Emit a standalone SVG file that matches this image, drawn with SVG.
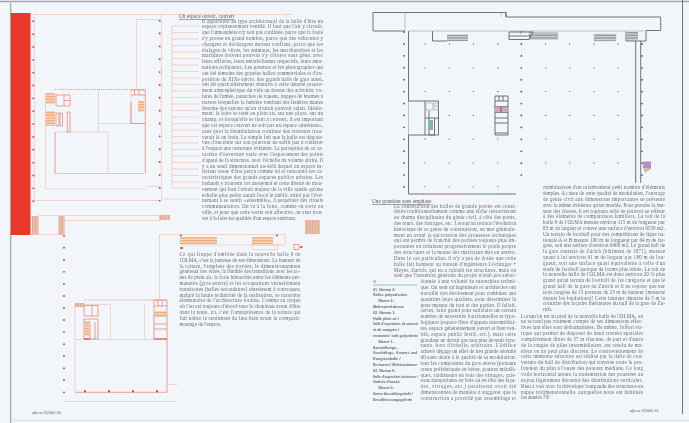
<svg xmlns="http://www.w3.org/2000/svg" width="689" height="423" viewBox="0 0 689 423">
<style>
.p{font-family:"Liberation Serif","Times New Roman",serif;font-size:5.05px;fill:#6a6b72}
.h{font-family:"Liberation Serif","Times New Roman",serif;font-size:5.3px;fill:#5c5a68;text-decoration:underline}
.l{font-family:"Liberation Sans",Arial,sans-serif;font-size:3.7px;font-weight:bold;fill:#666970}
.f{font-family:"Liberation Sans",Arial,sans-serif;font-size:3.9px;fill:#66666c}
.r{fill:none;stroke:#eec6b6;stroke-width:.7}
.rr{fill:none;stroke:#ea7a66;stroke-width:.7}
.rd{stroke:#e8392b;stroke-width:1.9;stroke-linecap:round;fill:none}
.k{fill:none;stroke:#5a5c60;stroke-width:.85}
.kl{fill:none;stroke:#a9abae;stroke-width:.7}
.kd{stroke:#55585c;stroke-width:1.8;stroke-linecap:round;fill:none}
.ks{stroke:#6b6d72;stroke-width:1.3;stroke-linecap:round;fill:none}
</style>
<defs>
<pattern id="o" width="3" height="1.6" patternUnits="userSpaceOnUse"><rect width="3" height="1.6" fill="#f8ddc2"/><rect width="3" height=".8" fill="#eea877"/></pattern>
<pattern id="t" width="1.6" height="1.6" patternUnits="userSpaceOnUse"><rect width="1.6" height="1.6" fill="#eec6b4"/><rect width=".8" height="1.6" fill="#dfa592"/></pattern>
<pattern id="g" width="3" height="1.6" patternUnits="userSpaceOnUse"><rect width="3" height="1.6" fill="#d5d8d6"/><rect width="3" height=".7" fill="#7f8a86"/></pattern>
<filter id="b" x="-5%" y="-5%" width="110%" height="110%"><feGaussianBlur stdDeviation="0.25"/></filter>
<filter id="c" x="-5%" y="-5%" width="110%" height="110%"><feGaussianBlur stdDeviation="0.28"/></filter>
</defs>
<rect width="689" height="423" fill="#f2f5fa"/>
<path d="M0 1.5H689" stroke="#9fa3a8" stroke-width="1.4"/>
<path d="M10.7 3V423" stroke="#8f9296" stroke-width="1"/>
<path d="M682.5 0V414" stroke="#6f7276" stroke-width="1"/>
<path d="M11 420.5H689" stroke="#cfe6e0" stroke-width="1.2"/>
<path d="M11 3H680" stroke="#e9edf2" stroke-width="1"/>

<g id="plan-red-upper" filter="url(#b)">
<rect x="11" y="13" width="19.5" height="222" fill="#e8392b"/>
<path class="r" d="M34.5 14.5H293M287 14.5V17M34.5 14.5V200.5H160M161.5 14.5V199H200"/>
<path class="rd" d="M33.3 21.3V202" stroke-dasharray="0 12.85"/>
<path class="rd" d="M159.7 20.7V201" stroke-dasharray="0 12.85"/>
<path class="r" d="M172 26V188M136.5 89V19.5H159M172 26h27M172 32.5h27M172 39h27M172 45.5h27M172 52h27M172 58.5h27M172 65h27M172 71.5h27M172 78h27M172 84.5h27M172 91h27M172 97.5h27M172 104h27M172 110.5h27M172 117h27M172 123.5h27M172 130h27M172 136.5h27M172 143h27M172 149.5h27M172 156h27M172 162.5h27M172 169h27M172 175.5h27M172 182h27M172 188h27"/>
<path class="r" d="M45.5 93V189H145.5M145.5 186.5H159M55 132H108V173M98.5 90V132M98 123.5H145M131 90V123.5"/>
<path class="rr" d="M55 89.5H145M55 173.5H145" stroke-dasharray="1 1" stroke="#dd8a78"/>
<path class="rr" d="M145.3 89.5V173.5M55 132V173" stroke="#e28570"/>
<rect x="45.5" y="93" width="9.5" height="33" fill="url(#o)"/>
<rect x="46" y="104" width="9" height="7" fill="#f2f5fa"/>
<path class="rr" d="M56 95H70V106H56ZM64 95V106M64 100.5H70M56 113H59V126H56ZM60 113H62.5V126H60ZM67.2 112H70V132H67.2Z"/>
<path class="rr" d="M131 90H145M131 95H145M134.5 90V95M139 90V95M131 102V123.5H145"/>
<rect x="138" y="101" width="6" height="11" fill="url(#o)"/>
</g>

<g id="plan-red-lower" filter="url(#b)">
<rect x="31.5" y="216" width="7" height="19" fill="url(#t)"/>
<rect x="58.5" y="216" width="6" height="19" fill="url(#t)"/>
<rect x="159" y="215" width="11" height="5" fill="url(#t)"/>
<rect x="305" y="220" width="15" height="14" fill="url(#t)"/>
<path class="r" d="M38 215.5H159M64 220.5H160M30 234.5H64M159.5 234.5H285V245H180M159.5 234.5V300"/>
<path class="rd" d="M64 235.7V404" stroke-dasharray="0 12.05"/>
<path class="rd" d="M181 235.5H278" stroke-dasharray="0 96"/>
<path class="rd" d="M181 248H182"/>
<rect x="180" y="237" width="37" height="7" fill="url(#o)"/>
<rect x="252" y="237" width="21" height="7" fill="url(#o)"/>
<rect x="252" y="245" width="26" height="4.5" class="r" stroke="#ecd3c0"/>
<rect x="294" y="244.5" width="5" height="5" class="rr"/>
<path class="rd" d="M301 247H301.5"/>
<path class="r" d="M75 304V392.3M75 339.5H167M75 304.5H110M110.5 304V339.5M144.5 304V339.5M64 401.5H177M168 384.5H177"/>
<path class="rr" d="M75 392.3H167M167 300V392.3" stroke="#e28570"/>
<path class="rr" d="M84 300H167" stroke-dasharray="1 1"/>
<rect x="75" y="303" width="9" height="4" fill="url(#t)"/>
<path class="rr" d="M84 305.5H98V316H84ZM92 305.5V316M84 319H98V339H84ZM84 322H90V339M95 322V339"/>
<rect x="85" y="322" width="4" height="14" fill="url(#o)"/>
<path class="rr" d="M154 300V339M154 300H167M154 306H167M154 316H167M154 324H167M154 329H167M158 300V306M162 300V306"/>
<path d="M154 339H167M84 339H90" stroke="#e8392b" stroke-width="1.1"/>
<rect x="154.5" y="311" width="12" height="5" fill="url(#o)"/>
<path class="rd" d="M85 391V391.5M109 391V391.5M133 391V391.5M157 391V391.5" stroke-width="1.6"/>
</g>

<g id="plan-grey" filter="url(#b)">
<path class="k" d="M405 31H373V12.5H506V17H660.7V30.5H646V41H626V31.5M506 12.5V17M408.5 31V101H425M408.5 135V194H516M408.5 135H425M432.5 31V41H447"/>
<path class="kl" d="M405 13V31M408.5 101V135M408 31H644M501 12.5V17" stroke="#b9c6c8"/>
<path d="M425 194H449M449 194H474" stroke="#d8a8b8" stroke-width="1"/>
<path d="M474 194H497" stroke="#9fd0cc" stroke-width="1"/>
<path class="k" d="M635.7 41V183M640.7 41V183"/>
<rect x="627" y="32" width="11" height="8.5" fill="url(#g)"/>
<rect x="447" y="34.5" width="21" height="6.5" fill="url(#g)"/>
<rect x="529" y="32.5" width="29" height="7" fill="url(#g)" stroke="#c5c8c8" stroke-width=".5"/>
<rect x="594" y="34" width="22" height="7" fill="url(#g)" stroke="#c5c8c8" stroke-width=".5"/>
<path class="k" d="M509 32H533L529 39.5H509ZM509 36H531M522 31L520.5 33.5"/>
<path class="k" d="M425 101H438.5V135H425ZM425 118H438.5M429 111V135H434.5V118"/>
<path class="kl" d="M426 103H433V110H426ZM434 103H438V110H434ZM434 106H438"/>
<rect x="428.5" y="120" width="4.5" height="10" fill="#7fb7a8"/>
<path class="k" d="M495 96H508V135H495ZM495 101H508M495 106.7H508M495 112.5H508M495 118H508M495 123H508M495 133H508M499 96V101M503 96V101"/>
<rect x="495.5" y="107" width="12" height="5.4" fill="#d8a4b0"/>
<path d="M501 107V112.5" stroke="#555" stroke-width="1"/>
<path class="kd" d="M404 32V190" stroke-dasharray="0 11.92"/>
<path class="kd" d="M521.3 44V176" stroke-dasharray="0 11.92" stroke-width="1.6"/>
<path class="kd" d="M642 44V176" stroke-dasharray="0 11.92" stroke-width="1.6"/>
<path class="ks" d="M449.3 44V188M473.3 44V188M545.7 44V188M569.7 44V188M594 44V188M618 44V188" stroke-dasharray="0 23.8"/>
<path class="ks" d="M425 44V92M425 139V188M497.7 139V188" stroke-dasharray="0 23.8"/>
<path class="ks" d="M497.7 44H498M497.7 67.8H498M497.7 91.5H498"/>
<path d="M643 161.5H651V169L643 168Z" fill="#b48fc8"/>
<path d="M643 168L651 169L645 173Z" fill="#c4c88e"/>
</g>

<g id="text" filter="url(#c)">
<text class="h" x="179" y="18">Un espace ouvert, couvert</text>
<text class="p" x="202" y="22.5" textLength="121">Il appartient au type architectural de la halle d'être un</text>
<text class="p" x="202" y="28.3" textLength="121">espace copieusement ventilé. Il faut que l'air y circule,</text>
<text class="p" x="202" y="34.1" textLength="121">que l'atmosphère n'y soit pas confinée, parce que la foule</text>
<text class="p" x="202" y="39.9" textLength="121">s'y presse en grand nombre, parce que des véhicules y</text>
<text class="p" x="202" y="45.7" textLength="121">chargent et déchargent moteur ronflant, parce que les</text>
<text class="p" x="202" y="51.5" textLength="121">étalages de vitres, les animaux, les marchandises et les</text>
<text class="p" x="202" y="57.3" textLength="121">machines doivent pouvoir s'y côtoyer sans gêne, avec</text>
<text class="p" x="202" y="63.1" textLength="121">leurs effluves, leurs métabolismes respectifs, leurs éma-</text>
<text class="p" x="202" y="68.9" textLength="121">nations polluantes. Les peintres et les photographes qui</text>
<text class="p" x="202" y="74.7" textLength="121">ont été témoins des grandes halles commerciales et d'ex-</text>
<text class="p" x="202" y="80.5" textLength="121">position du XIXe siècle, des grands halls de gare aussi,</text>
<text class="p" x="202" y="86.3" textLength="121">ont été particulièrement attentifs à cette densité propre-</text>
<text class="p" x="202" y="92.1" textLength="121">ment atmosphérique du vide au dessus des activités: vo-</text>
<text class="p" x="202" y="97.9" textLength="121">lutes de fumée, panaches de vapeur, nappes de brumes à</text>
<text class="p" x="202" y="103.7" textLength="121">travers lesquelles la lumière tombant des fenêtres hautes</text>
<text class="p" x="202" y="109.5" textLength="121">dessine des rayons qu'on croirait pouvoir saisir. Idéale-</text>
<text class="p" x="202" y="115.3" textLength="121">ment, la foire se tient en plein air, sur une place, sur un</text>
<text class="p" x="202" y="121.1" textLength="121">champ, et lorsqu'elle se tient à couvert, il est important</text>
<text class="p" x="202" y="126.9" textLength="121">que cet espace couvert ne soit pas un espace «intérieur»,</text>
<text class="p" x="202" y="132.7" textLength="121">sans quoi la déambulation continue des visiteurs trou-</text>
<text class="p" x="202" y="138.5" textLength="121">verait là un frein. Le simple fait que la halle est dépour-</text>
<text class="p" x="202" y="144.3" textLength="121">vue d'enceinte sur son pourtour ne suffit pas à conférer</text>
<text class="p" x="202" y="150.1" textLength="121">à l'espace une ouverture évidente. La perception de ce ca-</text>
<text class="p" x="202" y="155.9" textLength="121">ractère d'ouverture varie avec l'espacement des points</text>
<text class="p" x="202" y="161.7" textLength="121">d'appui de la structure, avec l'échelle du volume abrité. Il</text>
<text class="p" x="202" y="167.5" textLength="121">y a un seuil dimensionnel au-delà duquel un espace in-</text>
<text class="p" x="202" y="173.3" textLength="121">térieur cesse d'être perçu comme tel et rencontre les ca-</text>
<text class="p" x="202" y="179.1" textLength="121">ractéristiques des grands espaces publics urbains. Les</text>
<text class="p" x="202" y="184.9" textLength="121">badauds y trouvent cet anonymat et cette liberté de mou-</text>
<text class="p" x="202" y="190.7" textLength="121">vement qui font l'attrait majeur de la ville tandis qu'une</text>
<text class="p" x="202" y="196.5" textLength="121">échelle plus petite aurait forcé le public attiré par l'évé-</text>
<text class="p" x="202" y="202.3" textLength="121">nement à se sentir «ensemble», à perpétuer des rituels</text>
<text class="p" x="202" y="208.1" textLength="121">communautaires. On va à la foire, comme on sorte en</text>
<text class="p" x="202" y="213.9" textLength="121">ville, et pour que cette sortie soit effective, on veut trou-</text>
<text class="p" x="202" y="219.7">ver à la foire les qualités d'un espace extérieur.</text>

<text class="p" x="179.5" y="256" textLength="121">Ce qui frappe d'emblée dans la nouvelle halle 9 de</text>
<text class="p" x="179.5" y="261.8" textLength="121">l'OLMA, c'est la justesse de ses dimensions. La hauteur de</text>
<text class="p" x="179.5" y="267.6" textLength="121">la toiture, l'ampleur des travées, le dimensionnement</text>
<text class="p" x="179.5" y="273.4" textLength="121">généreux des vides, la fluidité des transitions avec les zo-</text>
<text class="p" x="179.5" y="279.2" textLength="121">nes de plein air, la forte hiérarchie entre les éléments per-</text>
<text class="p" x="179.5" y="285" textLength="121">manents (gros œuvre) et les occupations virtuellement</text>
<text class="p" x="179.5" y="290.8" textLength="121">transitoires (halles secondaires) réussissent à convoquer,</text>
<text class="p" x="179.5" y="296.6" textLength="121">malgré la haute technicité de la réalisation, ce caractère</text>
<text class="p" x="179.5" y="302.4" textLength="121">élémentaire de l'architecture foraine. Comme au cirque</text>
<text class="p" x="179.5" y="308.2" textLength="121">où l'on est toujours d'abord sous le chapiteau avant d'être</text>
<text class="p" x="179.5" y="314" textLength="121">dans la tente, ici, c'est l'omniprésence de la toiture qui</text>
<text class="p" x="179.5" y="319.8" textLength="121">fait naître le sentiment du lieu bien avant le comparti-</text>
<text class="p" x="179.5" y="325.6">montage de l'espace.</text>

<text class="h" x="372" y="203">Une grandeur sans emphase</text>
<text class="p" x="394" y="207.5" textLength="122">La construction des halles de grande portée est consi-</text>
<text class="p" x="394" y="213.33" textLength="122">dérée traditionnellement comme une tâche ressortissant</text>
<text class="p" x="394" y="219.16" textLength="122">au champ disciplinaire du génie civil, à côté des ponts,</text>
<text class="p" x="394" y="224.99" textLength="122">des tours, des barrages, etc. Lorsqu'on retrace l'évolution</text>
<text class="p" x="394" y="230.82" textLength="122">historique de ce genre de construction, on met générale-</text>
<text class="p" x="394" y="236.65" textLength="122">ment en avant la succession des prouesses techniques</text>
<text class="p" x="394" y="242.48" textLength="122">qui ont permis de franchir des portées toujours plus im-</text>
<text class="p" x="394" y="248.31" textLength="122">portantes en réduisant progressivement le poids propre</text>
<text class="p" x="394" y="254.14" textLength="122">des structures et la masse des matériaux mis en œuvre.</text>
<text class="p" x="394" y="259.97" textLength="122">Dans le cas particulier, il n'y a pas de doute que cette</text>
<text class="p" x="394" y="265.8" textLength="122">halle fait honneur au bureau d'ingénieurs Löchinger +</text>
<text class="p" x="394" y="271.63" textLength="122">Meyer, Zurich, qui en a calculé les structures, mais on</text>
<text class="p" x="394" y="277.46" textLength="122">sent que l'intention générale du projet n'était pas subor-</text>
<text class="p" x="420.5" y="283.29" textLength="95.5">donnée à une volonté de surenchère techni-</text>
<text class="p" x="420.5" y="289.12" textLength="95.5">que. On sent qu'ingénieurs et architectes ont</text>
<text class="p" x="420.5" y="294.95" textLength="95.5">travaillé très étroitement pour combiner aux</text>
<text class="p" x="420.5" y="300.78" textLength="95.5">quantités leurs qualités, pour déterminer la</text>
<text class="p" x="420.5" y="306.61" textLength="95.5">juste mesure du tout et des parties. Il fallait,</text>
<text class="p" x="420.5" y="312.44" textLength="95.5">certes, faire grand pour satisfaire un certain</text>
<text class="p" x="420.5" y="318.27" textLength="95.5">nombre de nécessités fonctionnelles et typo-</text>
<text class="p" x="420.5" y="324.1" textLength="95.5">logiques (espace libre d'appuis intermédiai-</text>
<text class="p" x="420.5" y="329.93" textLength="95.5">res, espace généreusement ouvert et bien ven-</text>
<text class="p" x="420.5" y="335.76" textLength="95.5">tilé, espace public festif, etc.), mais cette</text>
<text class="p" x="420.5" y="341.59" textLength="95.5">grandeur ne devait pas non plus devenir écra-</text>
<text class="p" x="420.5" y="347.42" textLength="95.5">sante, hors d'échelle, arbitraire. L'édifice</text>
<text class="p" x="420.5" y="353.25" textLength="95.5">achevé dégage un effet de très grande sérénité</text>
<text class="p" x="420.5" y="359.08" textLength="95.5">dû sans doute à la qualité de sa modulation:</text>
<text class="p" x="420.5" y="364.91" textLength="95.5">tous les composants du gros œuvre (poteaux</text>
<text class="p" x="420.5" y="370.74" textLength="95.5">creux préfabriqués en béton, poutres métalli-</text>
<text class="p" x="420.5" y="376.57" textLength="95.5">ques, raidisseurs en bois des vitrages, cais-</text>
<text class="p" x="420.5" y="382.4" textLength="95.5">sons autoportants en bois ou en tôle des faça-</text>
<text class="p" x="420.5" y="388.23" textLength="95.5">des, vitrages, etc.) paraissent avoir été</text>
<text class="p" x="420.5" y="394.06" textLength="95.5">dimensionnés de manière à suggérer que la</text>
<text class="p" x="420.5" y="399.89" textLength="95.5">construction a procédé par assemblage et</text>

<text class="p" x="543" y="189.3" textLength="122">combinaison d'un relativement petit nombre d'éléments</text>
<text class="p" x="543" y="195.1" textLength="122">simples. A cause de cette qualité de modulation, l'ouvrage</text>
<text class="p" x="543" y="200.9" textLength="122">de génie civil aux dimensions importantes se présente</text>
<text class="p" x="543" y="206.7" textLength="122">avec la même évidence qu'un meuble. Pour prendre la me-</text>
<text class="p" x="543" y="212.5" textLength="122">sure des choses, il est toujours utile de pouvoir se référer</text>
<text class="p" x="543" y="218.3" textLength="122">à des éléments de comparaison familiers. Le toit de la</text>
<text class="p" x="543" y="224.1" textLength="122">halle 9 de l'OLMA mesure environ 115 m de longueur par</text>
<text class="p" x="543" y="229.9" textLength="122">83 m de largeur et couvre une surface d'environ 9550 m2.</text>
<text class="p" x="543" y="235.7" textLength="122">Un terrain de football pour des compétitions de ligue na-</text>
<text class="p" x="543" y="241.5" textLength="122">tionale A et B mesure 100 m de longueur par 64 m de lar-</text>
<text class="p" x="543" y="247.3" textLength="122">geur, soit une surface d'environ 6400 m2. Le grand hall de</text>
<text class="p" x="543" y="253.1" textLength="122">la gare centrale de Zurich (bâtiment de 1871), mesure</text>
<text class="p" x="543" y="258.9" textLength="122">quant à lui environ 41 m de largeur par 180 m de lon-</text>
<text class="p" x="543" y="264.7" textLength="122">gueur, soit une surface quasi équivalente à celle d'un</text>
<text class="p" x="543" y="270.5" textLength="122">stade de football quoique de forme plus étirée. Le toit de</text>
<text class="p" x="543" y="276.3" textLength="122">la nouvelle halle de l'OLMA est donc environ 20 % plus</text>
<text class="p" x="543" y="282.1" textLength="122">grand qu'un terrain de football de 1re catégorie et que le</text>
<text class="p" x="543" y="287.9" textLength="122">grand hall de la gare de Zurich et il ne repose que sur</text>
<text class="p" x="543" y="293.7" textLength="122">trois rangées de 15 poteaux de 23 m de hauteur (mesurée</text>
<text class="p" x="543" y="299.5" textLength="122">depuis les fondations)! Cette hauteur dépasse de 5 m la</text>
<text class="p" x="543" y="305.3" textLength="122">corniche des façades intérieures du hall de la gare de Zu-</text>
<text class="p" x="543" y="311.1">rich.</text>

<text class="p" x="521" y="317.5" textLength="122">Lorsqu'on est au pied de la nouvelle halle de l'OLMA, on</text>
<text class="p" x="521" y="323.35" textLength="122">ne se rend pas vraiment compte de ses dimensions effec-</text>
<text class="p" x="521" y="329.2" textLength="122">tives tant elles sont dédramatisées. De même, l'effort sta-</text>
<text class="p" x="521" y="335.05" textLength="122">tique qui permet de disposer de deux travées spatiales</text>
<text class="p" x="521" y="340.9" textLength="122">complètement libres de 57 m chacune, de part et d'autre</text>
<text class="p" x="521" y="346.75" textLength="122">de la rangée de piles intermédiaires, est résolu de ma-</text>
<text class="p" x="521" y="352.6" textLength="122">nière on ne peut plus discrète. Le contreventement de</text>
<text class="p" x="521" y="358.45" textLength="122">cette immense structure est réalisé par la dalle de cou-</text>
<text class="p" x="521" y="364.3" textLength="122">verture du hall de distribution qui traverse toute la pro-</text>
<text class="p" x="521" y="370.15" textLength="122">fondeur du plan à l'ouest des poteaux médians. Ce long</text>
<text class="p" x="521" y="376" textLength="122">voile horizontal assure la transmission des poussées au</text>
<text class="p" x="521" y="381.85" textLength="122">noyau légèrement décentré des distributions verticales.</text>
<text class="p" x="521" y="387.7" textLength="122">Rien à voir avec la rhétorique lourpaude des structures en</text>
<text class="p" x="521" y="393.55" textLength="122">nappe tridimensionnelle, auxquelles nous ont habitués</text>
<text class="p" x="521" y="399.4">les années 70!</text>

<text class="l" x="373" y="283" style="font-weight:normal">///</text>
<path d="M373 285H417" stroke="#7fb4c4" stroke-width=".8"/>
<text class="l" x="373" y="290.5">01. Niveau 2:</text>
<text class="l" x="373" y="296.3">Salles polyvalentes</text>
<text class="l" x="378.5" y="302.1">Ebene 2:</text>
<text class="l" x="373" y="307.9">Mehrzweckräume</text>
<text class="l" x="373" y="313.7">02. Niveau 1:</text>
<text class="l" x="373" y="319.5">Halle plein air /</text>
<text class="l" x="373" y="325.3" textLength="45" lengthAdjust="spacingAndGlyphs">halle d'exposition, de concert</text>
<text class="l" x="373" y="331.1">et de congrès /</text>
<text class="l" x="373" y="336.9" textLength="45" lengthAdjust="spacingAndGlyphs">restaurant / salle polyvalente</text>
<text class="l" x="378.5" y="342.7">Ebene 1:</text>
<text class="l" x="373" y="348.5">Ausstellungs-,</text>
<text class="l" x="373" y="354.3" textLength="44" lengthAdjust="spacingAndGlyphs">Geschäftsgs-, Konzert- und</text>
<text class="l" x="373" y="360.1">Kongresshalle /</text>
<text class="l" x="373" y="365.9" textLength="44" lengthAdjust="spacingAndGlyphs">Restaurant / Mehrzweckraum</text>
<text class="l" x="373" y="371.7">03. Niveau 0:</text>
<text class="l" x="373" y="377.5" textLength="45" lengthAdjust="spacingAndGlyphs">Halle d'exposition intérieure /</text>
<text class="l" x="373" y="383.3">Galerie d'accès</text>
<text class="l" x="378.5" y="389.1">Ebene 0:</text>
<text class="l" x="373" y="394.9" textLength="40" lengthAdjust="spacingAndGlyphs">Untere Ausstellungshalle /</text>
<text class="l" x="373" y="400.7">Erschliessungsgalerie</text>

<text class="f" x="32" y="413.5">a|b+w 3/2000  40</text>
<text class="f" x="630" y="411.5">a|b+w 3/2000  41</text>
</g>
</svg>
